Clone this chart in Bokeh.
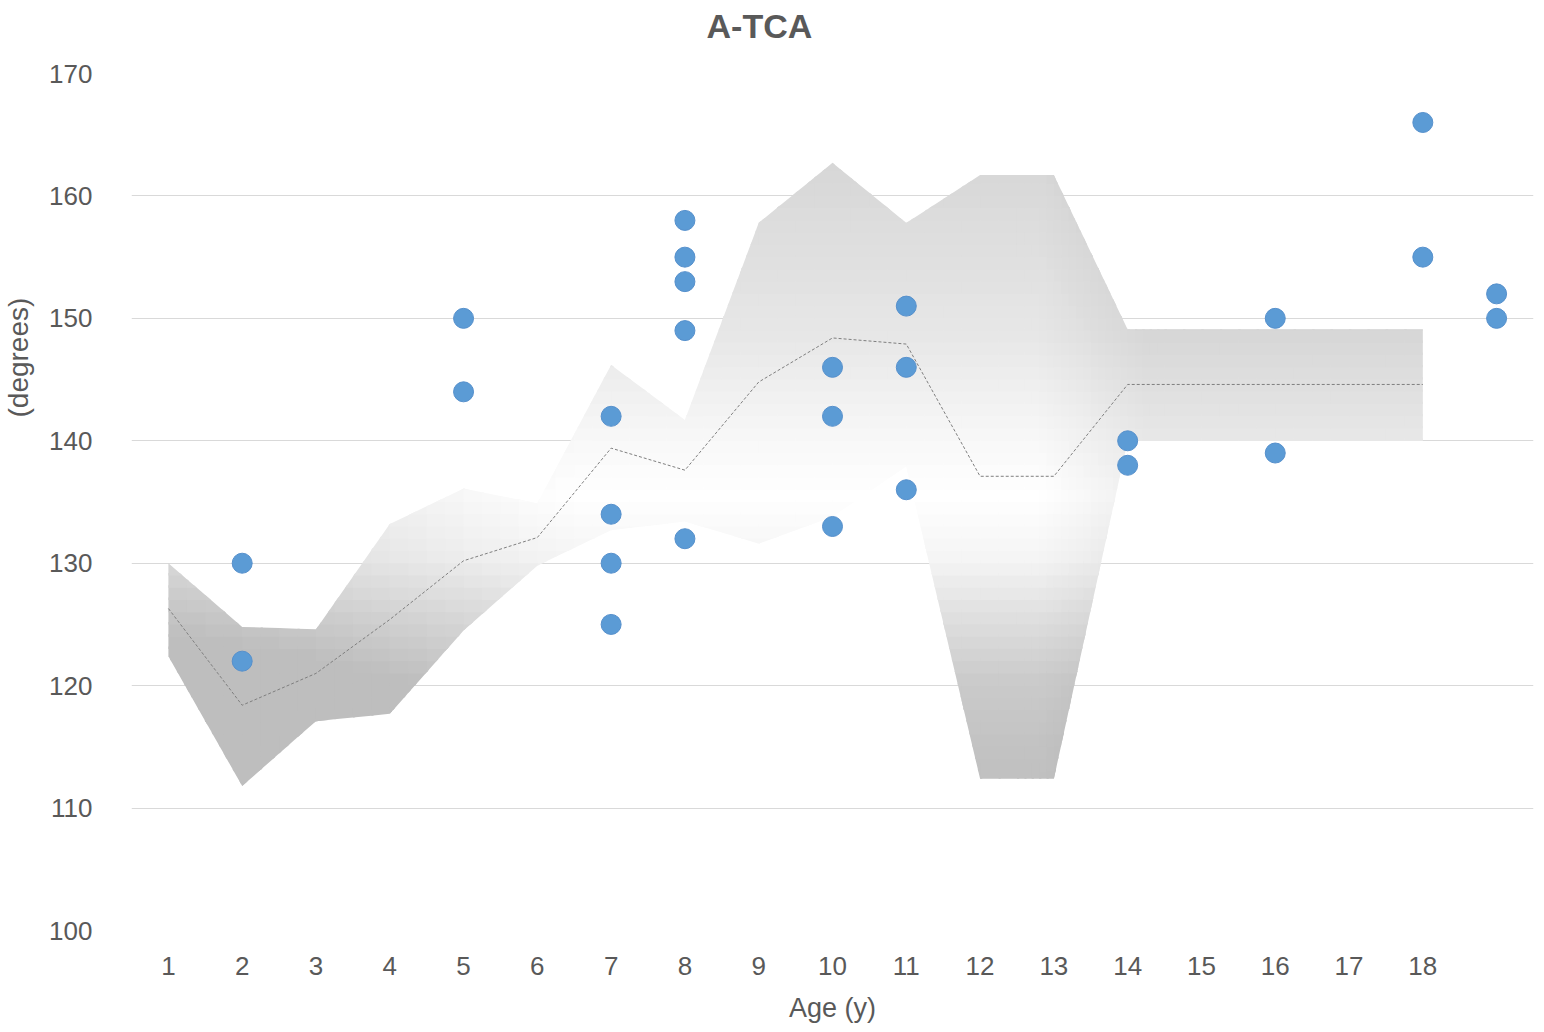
import numpy as np
from bokeh.plotting import figure
from bokeh.models import FixedTicker, Range1d, Title
from bokeh.embed import file_html
from bokeh.resources import INLINE

# ---------------- data ----------------
band_age = list(range(1, 19))
band_upper = [130.0, 124.8, 124.6, 133.2, 136.1, 134.9, 146.2, 141.7, 157.8, 162.7,
              157.8, 161.7, 161.7, 149.1, 149.1, 149.1, 149.1, 149.1]
band_lower = [122.4, 111.8, 117.1, 117.7, 124.5, 129.8, 132.7, 133.4, 131.6, 133.8,
              137.9, 112.4, 112.4, 140.0, 140.0, 140.0, 140.0, 140.0]
band_mean = [126.3, 118.4, 121.0, 125.4, 130.2, 132.1, 139.4, 137.6, 144.8, 148.4,
             147.9, 137.1, 137.1, 144.6, 144.6, 144.6, 144.6, 144.6]

pt_age = [2, 2, 5, 5, 7, 7, 7, 7, 8, 8, 8, 8, 8, 10, 10, 10, 11, 11, 11, 14, 14, 16, 16, 18, 18, 19, 19]
pt_val = [130, 122, 150, 144, 142, 134, 130, 125, 158, 155, 153, 149, 132, 146, 142, 133,
          151, 146, 136, 140, 138, 150, 139, 166, 155, 152, 150]

x_ticks = list(range(1, 19))
y_ticks = [100, 110, 120, 130, 140, 150, 160, 170]

title_text = "A-TCA"
x_title = "Age (y)"
y_title = "(degrees)"

FONT = "Liberation Sans"
TXT = "#595959"

p = figure(frame_width=1402, frame_height=857, output_backend="svg", toolbar_location=None,
           x_range=Range1d(0.5, 19.5), y_range=Range1d(100, 170),
           min_border_left=131, min_border_top=73, min_border_right=6, min_border_bottom=10)
p.outline_line_color = None
p.background_fill_color = "white"
p.border_fill_color = "white"

# axes
p.xaxis.ticker = FixedTicker(ticks=x_ticks)
p.yaxis.ticker = FixedTicker(ticks=y_ticks)
for ax in (p.xaxis, p.yaxis):
    ax.axis_line_color = None
    ax.major_tick_line_color = None
    ax.minor_tick_line_color = None
    ax.major_tick_out = 0
    ax.major_tick_in = 0
    ax.minor_tick_out = 0
    ax.minor_tick_in = 0
    ax.major_label_text_font = FONT
    ax.major_label_text_font_size = "26px"
    ax.major_label_text_color = TXT
p.xaxis.major_label_standoff = 26
p.yaxis.major_label_standoff = 39
p.xaxis.axis_label = x_title
p.xaxis.axis_label_text_font = FONT
p.xaxis.axis_label_text_font_size = "27px"
p.xaxis.axis_label_text_font_style = "normal"
p.xaxis.axis_label_text_color = TXT
p.xaxis.axis_label_standoff = 15

p.xgrid.visible = False
p.ygrid.grid_line_color = "#d9d9d9"
p.ygrid.grid_line_width = 1


# ---------------- gradient band ----------------
def shade(x, y):
    dy = y - 135.5
    g = np.interp(dy, [-25, -20, -15, -10, -5, 0, 5, 13, 27], [64, 60, 52, 32, 10, 0, 8, 24, 40])
    h = np.interp(x, [1, 3, 5, 6.5, 12.8, 14.2, 18], [28, 20, 8, 0, 0, 16, 16])
    L = int(round(max(190.0, 255.0 - g - h)))
    return "#%02x%02x%02x" % (L, L, L)


def crossings(x0, x1, arr, levels):
    f0 = np.interp(x0, band_age, arr)
    f1 = np.interp(x1, band_age, arr)
    out = []
    if abs(f1 - f0) > 1e-12:
        for t in levels:
            s = (t - f0) / (f1 - f0)
            if 0 < s < 1:
                out.append(x0 + s * (x1 - x0))
    return out


xs_list, ys_list, cols = [], [], []
edges = np.unique(np.concatenate([np.arange(1.0, 12.5, 0.25),
                                  np.arange(12.5, 14.5, 0.1),
                                  np.arange(14.5, 18.0001, 0.25)]))
edges = np.round(edges, 6)
for c0, c1 in zip(edges[:-1], edges[1:]):
    c1e = min(c1 + 0.03, 18.0)
    xm = 0.5 * (c0 + c1)
    for a in np.arange(111.0, 163.0, 1.0):
        be = a + 1.2
        pts = {c0, c1, c1e}
        for arr in (band_upper, band_lower):
            pts.update(crossings(c0, c1, arr, (a, be)))
            if c1e > c1:
                pts.update(crossings(c1, c1e, arr, (a, be)))
        xs = np.array(sorted(pts))
        yh = np.clip(np.interp(xs, band_age, band_upper), a, be)
        yl = np.clip(np.interp(xs, band_age, band_lower), a, be)
        if np.all(yh - yl < 1e-9):
            continue
        xs_list.append(list(xs) + list(xs[::-1]))
        ys_list.append(list(yh) + list(yl[::-1]))
        cols.append(shade(xm, a + 0.5))

p.patches(xs_list, ys_list, fill_color=cols, line_color=None)

# mean line
p.line(band_age, band_mean, line_color="#7f7f7f", line_width=1, line_dash="3 2")

# points
p.scatter(pt_age, pt_val, size=20, fill_color="#5b9bd5", line_color="#5690cc", line_width=1)

# titles (spacer panels keep the texts at the reference distances)
p.add_layout(Title(text=" ", text_font_size="1px", standoff=26), "above")
p.add_layout(Title(text=title_text, text_font=FONT, text_font_size="34px",
                   text_font_style="bold", text_color=TXT, align="left", offset=575,
                   standoff=0), "above")
p.add_layout(Title(text=" ", text_font_size="1px", standoff=10), "left")
p.add_layout(Title(text=y_title, text_font=FONT, text_font_size="28px",
                   text_font_style="normal", text_color=TXT, align="left", offset=513,
                   standoff=0), "left")

open("out.html", "w").write(file_html(p, INLINE))
